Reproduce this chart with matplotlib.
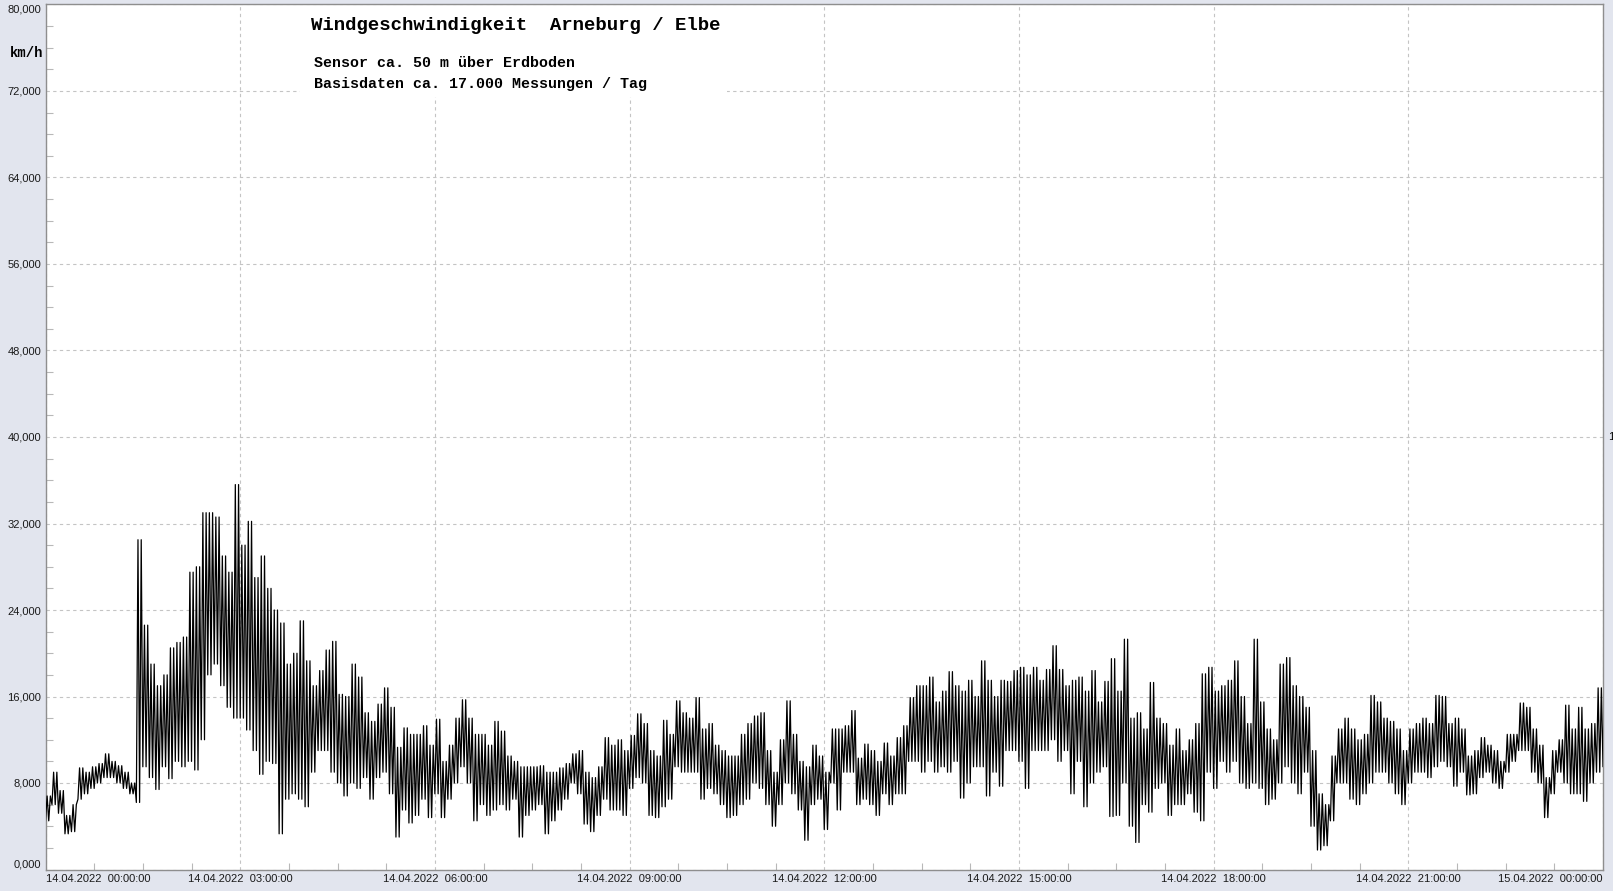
import matplotlib
matplotlib.use('Agg')
import matplotlib.pyplot as plt
import numpy as np
from matplotlib.patches import Rectangle

# Windgeschwindigkeit 14.04.2022, je 6-Minuten-Intervall: Minimum / Maximum (km/h)
bin_hours = 0.1
speed_low = [
    4.5, 6.0, 5.2, 3.3, 3.5, 6.5, 7.0, 7.5, 8.0, 8.5,
    8.5, 8.0, 7.5, 7.0, 6.2, 9.5, 8.5, 7.4, 9.5, 8.4,
    10.0, 9.5, 10.0, 9.2, 12.0, 18.0, 19.0, 17.0, 15.0, 14.0,
    14.0, 12.9, 11.0, 8.8, 10.0, 9.8, 3.3, 6.5, 7.0, 6.5,
    5.8, 9.0, 11.0, 11.0, 9.0, 8.0, 6.8, 8.0, 7.5, 8.5,
    6.5, 8.5, 9.0, 7.0, 3.0, 5.5, 4.3, 5.0, 6.5, 4.8,
    7.0, 4.8, 6.5, 8.0, 9.5, 8.0, 4.5, 6.0, 5.0, 5.5,
    6.0, 5.5, 6.5, 3.0, 5.0, 5.5, 6.0, 3.3, 4.5, 5.5,
    6.5, 8.0, 7.0, 4.2, 3.5, 5.0, 6.5, 5.5, 5.5, 5.0,
    7.5, 8.5, 8.0, 5.0, 4.8, 5.8, 6.5, 9.5, 9.0, 9.0,
    9.0, 6.5, 7.5, 7.0, 6.0, 4.8, 5.0, 6.0, 6.5, 8.0,
    7.5, 6.0, 4.0, 6.0, 8.0, 7.0, 5.5, 2.7, 6.0, 6.5,
    3.7, 8.0, 5.5, 9.0, 9.0, 6.0, 6.5, 6.0, 5.0, 7.0,
    6.0, 7.0, 7.0, 10.0, 10.0, 9.0, 10.0, 9.0, 9.5, 9.0,
    10.0, 6.6, 8.0, 9.5, 9.5, 6.8, 9.0, 7.7, 11.0, 11.0,
    10.0, 7.5, 11.0, 11.0, 11.0, 12.0, 10.0, 11.0, 7.0, 10.0,
    5.8, 8.0, 9.0, 9.5, 4.9, 5.0, 8.0, 4.0, 2.5, 6.0,
    5.3, 7.5, 8.0, 5.0, 6.0, 6.0, 7.0, 5.3, 4.5, 9.0,
    7.5, 10.0, 9.0, 10.0, 8.0, 7.5, 8.0, 7.5, 6.0, 6.5,
    8.0, 9.5, 8.0, 7.0, 9.0, 4.0, 1.8, 2.2, 4.5, 8.0,
    8.0, 6.5, 6.0, 7.0, 8.0, 9.0, 9.0, 8.0, 7.0, 6.0,
    8.0, 9.0, 9.0, 8.5, 9.5, 10.0, 9.5, 7.7, 9.0, 6.9,
    7.0, 8.5, 9.0, 8.0, 7.5, 9.0, 10.0, 11.0, 11.0, 9.0,
    8.0, 4.8, 7.0, 9.0, 8.0, 7.0, 7.0, 6.3, 8.0, 9.0,
    9.5,
]
speed_high = [
    6.8, 9.0, 7.3, 5.0, 6.0, 9.4, 9.0, 9.5, 9.8, 10.7,
    10.0, 9.6, 9.0, 8.0, 30.5, 22.6, 19.0, 17.0, 18.0, 20.5,
    21.0, 21.5, 27.5, 28.0, 33.0, 33.0, 32.6, 29.0, 27.5, 35.6,
    30.0, 32.2, 27.0, 29.0, 26.0, 24.0, 22.8, 19.0, 20.0, 23.0,
    19.3, 17.0, 18.4, 20.3, 21.1, 16.2, 16.0, 19.0, 17.8, 14.5,
    13.7, 15.3, 16.8, 15.0, 11.3, 13.1, 12.5, 12.5, 13.3, 11.5,
    13.9, 10.0, 11.5, 14.0, 15.7, 14.0, 12.5, 12.5, 11.5, 13.7,
    12.8, 10.5, 10.0, 9.5, 9.5, 9.5, 9.6, 9.0, 9.0, 9.4,
    9.8, 10.7, 11.0, 9.0, 8.5, 9.5, 12.2, 11.5, 12.0, 11.0,
    12.4, 14.4, 13.5, 11.0, 10.5, 13.8, 12.5, 15.6, 14.5, 14.0,
    15.9, 13.0, 13.5, 11.5, 11.0, 10.5, 10.5, 12.5, 13.5, 14.2,
    14.5, 11.0, 9.0, 12.0, 15.6, 12.5, 10.0, 9.5, 11.5, 10.5,
    9.0, 13.0, 13.0, 13.3, 14.7, 10.3, 11.6, 11.0, 10.0, 11.7,
    10.5, 12.2, 13.3, 15.9, 17.0, 17.0, 17.8, 15.5, 16.5, 18.3,
    17.0, 16.5, 17.5, 16.0, 19.3, 17.5, 16.0, 17.5, 17.4, 18.4,
    18.7, 18.0, 18.7, 17.5, 18.5, 20.7, 18.5, 17.0, 17.5, 17.8,
    16.5, 18.4, 15.5, 17.4, 19.5, 16.5, 21.3, 14.0, 14.5, 13.0,
    17.3, 14.0, 13.5, 11.5, 13.0, 11.0, 12.0, 13.5, 18.1, 18.7,
    16.5, 17.0, 17.5, 19.3, 16.0, 13.5, 21.3, 15.5, 13.0, 12.0,
    19.0, 19.6, 17.0, 16.0, 15.0, 11.0, 7.0, 6.0, 10.5, 13.0,
    14.0, 13.0, 12.0, 12.5, 16.1, 15.5, 14.0, 13.7, 13.0, 11.0,
    13.0, 13.5, 14.0, 13.5, 16.1, 16.0, 13.5, 14.0, 13.0, 10.5,
    11.0, 12.2, 11.5, 11.0, 10.0, 12.5, 12.5, 15.4, 15.0, 13.0,
    11.5, 8.5, 11.0, 12.0, 15.2, 13.0, 15.0, 13.0, 13.5, 16.8,
    19.9,
]

y_ticks = [0, 8, 16, 24, 32, 40, 48, 56, 64, 72, 80]
x_ticks = [0, 3, 6, 9, 12, 15, 18, 21, 24]
x_labels = ['14.04.2022  00:00:00', '14.04.2022  03:00:00', '14.04.2022  06:00:00',
            '14.04.2022  09:00:00', '14.04.2022  12:00:00', '14.04.2022  15:00:00',
            '14.04.2022  18:00:00', '14.04.2022  21:00:00', '15.04.2022  00:00:00']

W, H = 1613, 891
bg = '#e2e5ee'
fig = plt.figure(figsize=(W / 100, H / 100), dpi=100, facecolor=bg)
ax = fig.add_axes([45.5 / W, 21.5 / H, (1603 - 45.5) / W, (869.5 - 4.5) / H])
ax.set_facecolor('white')

# Min/Max je Intervall als dichte Zickzack-Linie (Min, Max, Min, Max)
t = np.arange(len(speed_low)) * bin_hours
lo = np.array(speed_low)
hi = np.array(speed_high)
q = bin_hours / 4
xs = np.column_stack([t, t + q, t + 2 * q, t + 3 * q]).ravel()
ys = np.column_stack([lo, hi, lo, hi]).ravel()
ax.plot(xs, ys, color='black', lw=0.9, zorder=3)

ax.set_xlim(0, 24)
ax.set_ylim(0, 80)

ax.set_yticks(y_ticks)
ax.set_yticklabels([f'{v:.3f}'.replace('.', ',') for v in y_ticks])
ax.set_yticks(np.arange(0, 81, 2), minor=True)
ax.set_xticks(x_ticks)
ax.set_xticklabels(x_labels)
ax.set_xticks(np.arange(0, 24.01, 0.75), minor=True)

ax.tick_params(which='major', length=0, pad=3, labelsize=8, labelcolor='#1a1a1a')
ax.tick_params(which='minor', direction='in', length=5, color='#b8b8b8', width=0.8)
for lab in ax.get_xticklabels() + ax.get_yticklabels():
    lab.set_family('Liberation Sans')
xl = ax.get_xticklabels()
xl[0].set_ha('left')
xl[-1].set_ha('right')
yl = ax.get_yticklabels()
yl[0].set_va('bottom')
yl[-1].set_va('top')

ax.grid(True, which='major', color='#c4c4c4', lw=0.8, ls=(0, (3, 3)), zorder=1)
for s in ax.spines.values():
    s.set_color('#8e8e8e')
    s.set_linewidth(1)

ax.text(1.003, 40, '1', transform=ax.get_yaxis_transform(), fontsize=8,
        family='Liberation Sans', va='center', ha='left')

# Textfeld oben
fig.patches.append(Rectangle((300 / W, 1 - 97 / H), 427 / W, 91 / H,
                             transform=fig.transFigure, facecolor='white',
                             edgecolor='none', zorder=1))
fig.text(311 / W, 1 - 26 / H, 'Windgeschwindigkeit  Arneburg / Elbe',
         family='Liberation Mono', weight='bold', fontsize=13.7, va='center', zorder=2)
fig.text(314 / W, 1 - 63 / H, 'Sensor ca. 50 m über Erdboden',
         family='Liberation Mono', weight='bold', fontsize=10.8, va='center', zorder=2)
fig.text(314 / W, 1 - 84 / H, 'Basisdaten ca. 17.000 Messungen / Tag',
         family='Liberation Mono', weight='bold', fontsize=10.8, va='center', zorder=2)
fig.text(43 / W, 1 - 53 / H, 'km/h', family='Liberation Mono', weight='bold',
         fontsize=10, va='center', ha='right')

fig.savefig('out.png', dpi=100, facecolor=bg)
